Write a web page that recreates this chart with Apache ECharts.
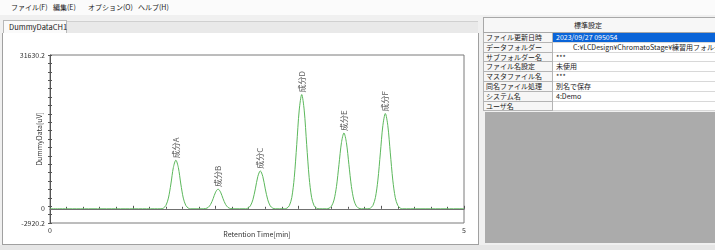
<!DOCTYPE html>
<html>
<head>
<meta charset="utf-8">
<script src="https://cdn.jsdelivr.net/npm/echarts@6/dist/echarts.min.js"></script>
<style>
body { margin: 0; width: 715px; height: 250px; overflow: hidden; background: #f0f0f0; position: relative;
  font-family: 'Noto Sans CJK JP', sans-serif; font-size: 7px; color: #222; }
.abs { position: absolute; box-sizing: border-box; }
.menu { left: 0; top: 0; width: 715px; height: 15px; background: #fbfbfb; }
.menu span { position: absolute; top: 2px; line-height: 11px; font-size: 7px; }
.tabstrip { left: 3px; top: 21px; width: 475px; height: 12px; background: #e9e9e9; border-top: 1px solid #d0d0d0; }
.tab { left: 3px; top: 20px; width: 64px; height: 13px; background: #fafafa; border: 1px solid #b8b8b8; border-bottom: none;
  line-height: 12px; padding-left: 5px; font-size: 7.5px; }
#chart { left: 3px; top: 33px; width: 475px; height: 211px; background: #fff; }
.frame { left: 2px; top: 33px; width: 477px; height: 212px; border: 1px solid #a0a0a0; border-top: none; }
.hdr { left: 483px; top: 17px; width: 240px; height: 16px; background: #f7f7f7; border: 1px solid #a8a8a8;
  text-align: center; line-height: 14px; padding-right: 30px; }
.cellL { left: 483px; width: 70px; background: #f6f6f6; border: 1px solid #b4b4b4; border-top: none; padding-left: 2px;
  white-space: nowrap; overflow: hidden; }
.cellV { left: 553px; width: 170px; background: #fff; border-bottom: 1px solid #d8d8d8; padding-left: 3px;
  white-space: nowrap; overflow: hidden; }
.sel { background: #0a64d8; color: #fff; }
.grey { left: 485px; top: 112px; width: 230px; height: 131px; background: #ababab; }
.bottom { left: 0; top: 245px; width: 715px; height: 5px; background: #e6e6e6; }
</style>
</head>
<body>
<div class="abs menu">
  <span style="left:11px">ファイル(F)</span>
  <span style="left:53px">編集(E)</span>
  <span style="left:88px">オプション(O)</span>
  <span style="left:138px">ヘルプ(H)</span>
</div>
<div class="abs tabstrip"></div>
<div class="abs tab">DummyDataCH1</div>
<div class="abs frame"></div>
<div class="abs" id="chart"></div>
<div class="abs hdr">標準設定</div>
<div id="table"></div>
<div class="abs grey"></div>
<div class="abs bottom"></div>

<script>
// trace values, [time(min), signal(uV)]
const peakA = [[1.34, 0], [1.37, 150], [1.40, 700], [1.43, 2200], [1.46, 5100], [1.49, 8500], [1.52, 10000],
  [1.55, 8500], [1.58, 5100], [1.61, 2200], [1.64, 700], [1.67, 150], [1.70, 0]];
const peakB = [[1.85, 0], [1.88, 60], [1.91, 280], [1.94, 910], [1.97, 2080], [2.00, 3430], [2.03, 4050],
  [2.06, 3430], [2.09, 2080], [2.12, 910], [2.15, 280], [2.18, 60], [2.21, 0]];
const peakC = [[2.36, 0], [2.39, 140], [2.42, 600], [2.45, 1850], [2.48, 4100], [2.51, 6650], [2.54, 7800],
  [2.57, 6650], [2.60, 4100], [2.63, 1850], [2.66, 600], [2.69, 140], [2.72, 0]];
const peakD = [[2.83, 0], [2.86, 120], [2.89, 640], [2.92, 2300], [2.95, 6400], [2.98, 13200], [3.01, 20300], [3.04, 23500],
  [3.07, 20300], [3.10, 13200], [3.13, 6400], [3.16, 2300], [3.19, 640], [3.22, 120], [3.25, 0]];
const peakE = [[3.34, 0], [3.37, 120], [3.40, 540], [3.43, 1800], [3.46, 4600], [3.49, 9100], [3.52, 13600], [3.55, 15600],
  [3.58, 13600], [3.61, 9100], [3.64, 4600], [3.67, 1800], [3.70, 540], [3.73, 120], [3.76, 0]];
const peakF = [[3.84, 0], [3.87, 150], [3.90, 690], [3.93, 2300], [3.96, 5900], [3.99, 11500], [4.02, 17100], [4.05, 19600],
  [4.08, 17100], [4.11, 11500], [4.14, 5900], [4.17, 2300], [4.20, 690], [4.23, 150], [4.26, 0]];

const peakNames = ['成分A', '成分B', '成分C', '成分D', '成分E', '成分F'];
const peakTimes = [1.52, 2.03, 2.54, 3.04, 3.55, 4.05];
const peakHeights = [10000, 4050, 7800, 23500, 15600, 19600];

const yMin = -2920.2;
const yMax = 31630.2;
const yLabels = [-2920.2, 0, 31630.2];
const xLabels = [0, 5];

const settingKeys = ['ファイル更新日時', 'データフォルダー', 'サブフォルダー名', 'ファイル名設定', 'マスタファイル名', '同名ファイル処理', 'システム名', 'ユーザ名'];
const settingVals = ['2023/09/27 095054', 'C:¥LCDesign¥ChromatoStage¥練習用フォルダ', '***', '未使用', '***', '別名で保存', '4:Demo', ''];

// settings table on the right
let html = '';
settingKeys.forEach(function (k, i) {
  let top = 33 + i * 9.8;
  let v = settingVals[i];
  let pad = i === 1 ? 'padding-left:20px;' : '';
  html += '<div class="abs cellL" style="top:' + top + 'px;height:9.8px;line-height:9px">' + k + '</div>';
  html += '<div class="abs cellV' + (i === 0 ? ' sel' : '') + '" style="top:' + top + 'px;height:9.8px;line-height:9px;' + pad + '">' + v + '</div>';
});
document.getElementById('table').innerHTML = html;

// tick marks on the y axis: 20 even steps over the range
let yTicks = [];
for (let i = 0; i <= 20; i++) yTicks.push(yMin + (yMax - yMin) * i / 20);

let trace = [[0, 0]].concat(peakA, peakB, peakC, peakD, peakE, peakF, [[5, 0]]);
let apexes = peakTimes.map(function (t, i) { return { value: [t, peakHeights[i]], name: peakNames[i] }; });

const axisColor = '#555';
const font = 'Noto Sans CJK JP';

let chart = echarts.init(document.getElementById('chart'));
chart.setOption({
  animation: false,
  grid: { left: 47, top: 22, right: 14, bottom: 21, outerBoundsMode: 'none', containLabel: false,
    show: true, borderColor: '#7a7a7a', borderWidth: 1, backgroundColor: '#fff' },
  xAxis: {
    type: 'value', min: 0, max: 5, interval: 1,
    name: 'Retention Time[min]', nameLocation: 'middle', nameGap: 8, nameMoveOverlap: false,
    nameTextStyle: { fontSize: 7, color: '#333', fontFamily: font },
    axisLine: { lineStyle: { color: axisColor } },
    axisTick: { inside: true, length: 3, lineStyle: { color: axisColor } },
    minorTick: { show: true, splitNumber: 5, length: 2, lineStyle: { color: axisColor } },
    axisLabel: { customValues: xLabels, fontSize: 7, margin: 4, color: '#333', fontFamily: font, formatter: function (v) { return String(v); } },
    splitLine: { show: false }
  },
  yAxis: [{
    type: 'value', min: yMin, max: yMax,
    name: 'DummyData[uV]', nameLocation: 'middle', nameGap: 7, nameRotate: 90, nameMoveOverlap: false,
    nameTextStyle: { fontSize: 7, color: '#333', fontFamily: font },
    axisLine: { show: true, lineStyle: { color: axisColor } },
    axisTick: { show: true, customValues: yTicks, length: 2, lineStyle: { color: axisColor } },
    axisLabel: { customValues: yLabels, fontSize: 7, margin: 5, color: '#333', fontFamily: font, formatter: function (v) { return String(v); } },
    splitLine: { show: false }
  }, {
    type: 'value', min: yMin, max: yMax, position: 'left',
    axisLine: { show: false },
    axisTick: { show: true, inside: true, customValues: yTicks, length: 2, lineStyle: { color: axisColor } },
    axisLabel: { show: false },
    splitLine: { show: false }
  }],
  series: [{
    type: 'line',
    data: trace,
    showSymbol: false,
    smooth: 0.3,
    lineStyle: { color: '#5cb85c', width: 1 },
    markLine: {
      silent: true, symbol: 'none', label: { show: false },
      lineStyle: { color: '#707070', width: 1, type: 'solid' },
      data: [{ yAxis: 0 }]
    }
  }, {
    type: 'scatter',
    data: apexes,
    symbolSize: 0,
    label: {
      show: true, position: 'top', rotate: 90, align: 'left', verticalAlign: 'middle', distance: 2,
      fontSize: 8, color: '#333', fontFamily: font,
      formatter: function (p) { return p.name; }
    }
  }]
});
</script>
</body>
</html>
